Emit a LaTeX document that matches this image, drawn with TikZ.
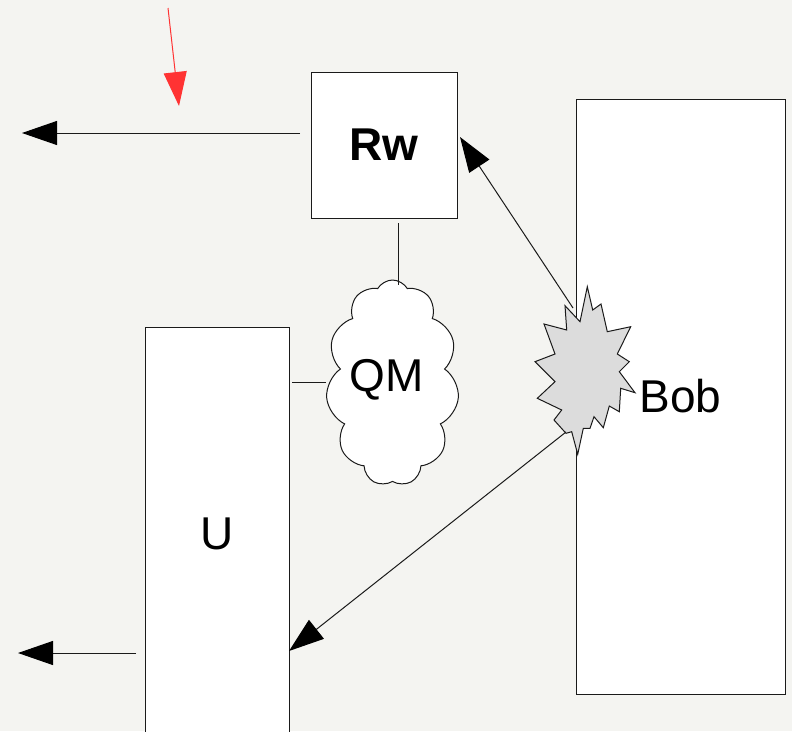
\documentclass[tikz,border=0pt]{standalone}
\usepackage{fontspec}
\setmainfont{Liberation Sans}
\usetikzlibrary{arrows.meta,shapes.symbols}
\definecolor{paper}{HTML}{F4F4F1}
\definecolor{edge}{HTML}{1A1A1A}
\definecolor{burst}{HTML}{DCDCDC}
\definecolor{hint}{HTML}{FF3333}
\tikzset{
  box/.style={draw=edge,fill=white,line width=1pt,inner sep=0pt},
  label text/.style={font=\fontsize{46}{52}\selectfont},
  link/.style={draw=edge,line width=1pt},
  arrowlink/.style={link,-{Triangle[length=35pt,width=24pt,color=black]}},
  puff/.style={cloud,draw=edge,fill=white,line width=1pt,cloud puffs=11,
    cloud puff arc=120,aspect=0.65,inner sep=0pt,
    minimum width=133pt,minimum height=206pt},
}
\begin{document}
\begin{tikzpicture}[x=1pt,y=-1pt]
  \fill[paper] (0,0) rectangle (792,731);
  \useasboundingbox (0,0) rectangle (792,731);

  % main blocks
  \node[box,minimum width=146pt,minimum height=146pt,font=\fontsize{46}{52}\selectfont\bfseries]
    (Rw) at (384,145) {Rw};
  \node[box,minimum width=209pt,minimum height=595pt,label text] (Bob) at (680.5,396.5) {Bob};
  \node[box,minimum width=144pt,minimum height=413pt,label text] (U) at (217,533.5) {U};
  \node[puff] (QM) at (392.5,383) {};
  \node[label text] (QMtext) at (387,380) {QM};

  % burst on the left edge of Bob
  \draw[edge,fill=burst,line width=1pt]
    (587.3,286.7) -- (592.7,310) -- (601,304) -- (607.3,331.7) -- (630.7,326.7)
    -- (617.3,354) -- (629.3,361.7) -- (619.3,371.7) -- (635,392.7) -- (620.7,388.3)
    -- (619.3,411.7) -- (609.3,406) -- (603.3,427.7) -- (594,416.7) -- (590,428.3)
    -- (583.3,428.3) -- (577.7,454.3) -- (571.7,431.7) -- (566,433.3) -- (554,420)
    -- (561.7,410) -- (537.3,398.3) -- (555,381.7) -- (535,361.7) -- (555,354)
    -- (544,324) -- (566.7,330) -- (565,305.7) -- (580,321.7) -- cycle;
  \coordinate (burstTop) at (573,308);
  \coordinate (burstBot) at (566,432);

  % connector end points
  \coordinate (rwIn) at (460,137);
  \coordinate (uIn) at (289,651);
  \coordinate (rwOut) at (300,133);
  \coordinate (rwOutEnd) at (22,133);
  \coordinate (uOut) at (136,653);
  \coordinate (uOutEnd) at (18,653);
  \coordinate (rwBottom) at (398,223);
  \coordinate (qmTop) at (398,285);
  \coordinate (uRight) at (292,382);
  \coordinate (qmLeft) at (326,382);
  \coordinate (hintStart) at (168,8);
  \coordinate (hintEnd) at (179,106);

  % connectors
  \draw[arrowlink] (burstTop) -- (rwIn);
  \draw[arrowlink] (burstBot) -- (uIn);
  \draw[arrowlink] (rwOut) -- (rwOutEnd);
  \draw[arrowlink] (uOut) -- (uOutEnd);
  \draw[link] (rwBottom) -- (qmTop);
  \draw[link] (uRight) -- (qmLeft);
  \draw[hint,line width=1pt,-{Triangle[length=34pt,width=23pt]}] (hintStart) -- (hintEnd);
\end{tikzpicture}
\end{document}
